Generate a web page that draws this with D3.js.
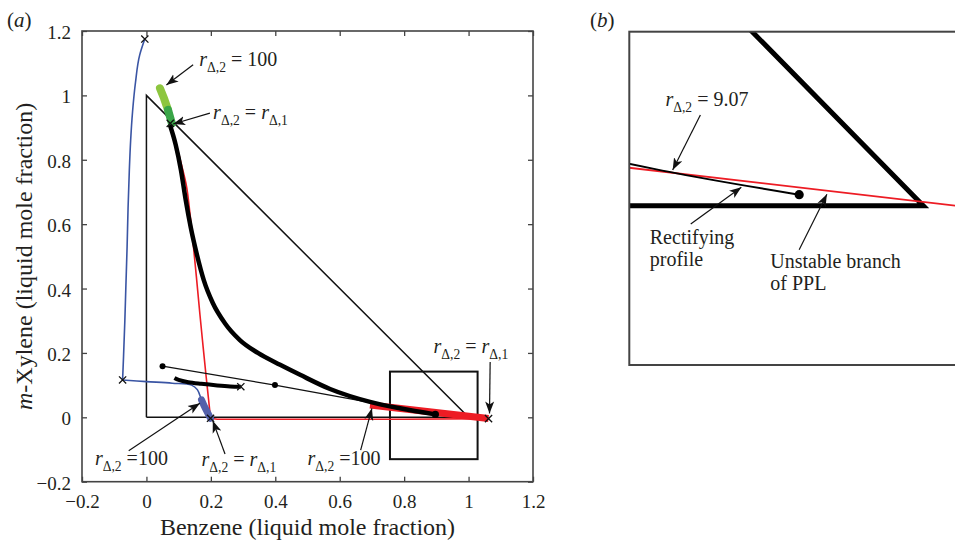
<!DOCTYPE html>
<html lang="en">
<head>
<meta charset="utf-8">
<script src="https://d3js.org/d3.v7.min.js"></script>
<style>
  body { margin: 0; background: #fff; }
  svg text { font-family: "Liberation Serif", "DejaVu Serif", serif; fill: #231f20; white-space: pre; }
</style>
</head>
<body>
<script>

// tick values shared by both axes
var xTicks = [-0.2, 0, 0.2, 0.4, 0.6, 0.8, 1, 1.2];
var yTicks = [-0.2, 0, 0.2, 0.4, 0.6, 0.8, 1, 1.2];

// composition triangle and the window shown in (b)
var triangle = [[0, 0], [0, 1], [1, 0], [0, 0]];
var zoomBox = [[0.756, -0.13], [1.028, 0.142]];

// profiles as [benzene, m-xylene]
var blueRise = [[-0.005, 1.175], [-0.021, 1.125], [-0.034, 1.04], [-0.043, 0.95], [-0.049, 0.86],
    [-0.053, 0.77], [-0.057, 0.65], [-0.060, 0.53], [-0.064, 0.40], [-0.067, 0.30], [-0.071, 0.19],
    [-0.074, 0.116]];
var blueRun = [[-0.074, 0.116], [0.0, 0.111], [0.08, 0.106], [0.14, 0.100], [0.158, 0.086], [0.171, 0.054],
    [0.185, 0.026], [0.199, -0.003]];
var blueThick = [[0.171, 0.054], [0.179, 0.036], [0.189, 0.016], [0.199, -0.003]];
var redCurve = [[0.074, 0.913], [0.092, 0.85], [0.110, 0.78], [0.124, 0.72], [0.135, 0.634],
    [0.146, 0.53], [0.156, 0.427], [0.166, 0.32], [0.176, 0.219], [0.185, 0.13], [0.192, 0.064],
    [0.199, -0.003]];
var redBase = [[0.199, -0.003], [0.22, -0.006], [0.5, -0.006], [0.8, -0.006], [1.062, -0.004]];
var redThick = [[0.694, 0.038], [1.062, -0.004]];
var greenLight = [[0.042, 1.022], [0.055, 0.99], [0.067, 0.955]];
var greenDark = [[0.067, 0.955], [0.079, 0.913]];
var rectProfile = [[0.073, 0.908], [0.091, 0.846], [0.107, 0.769], [0.122, 0.675], [0.138, 0.588],
    [0.157, 0.504], [0.178, 0.426], [0.206, 0.355], [0.243, 0.293], [0.290, 0.240], [0.346, 0.200],
    [0.415, 0.163], [0.477, 0.132], [0.570, 0.088], [0.694, 0.048], [0.787, 0.028], [0.897, 0.009]];
var shortProfile = [[0.087, 0.122], [0.1, 0.116], [0.13, 0.109], [0.17, 0.104], [0.22, 0.099],
    [0.26, 0.096], [0.293, 0.095]];
var tieLine = [[0.05, 0.159], [0.399, 0.1], [0.897, 0.009]];
var tieDots = [[0.05, 0.159], [0.399, 0.1]];
var endDot = [0.897, 0.009];
var crosses = [[-0.005, 1.175], [-0.074, 0.116], [0.074, 0.913], [0.293, 0.095], [0.199, -0.003], [1.062, -0.004]];

// annotations: text parts, text anchor, arrow tail and tip (data units)
var notesA = [
    { parts: [["r", "i"], ["Δ,2", "sub"], [" = 100", ""]], at: [0.164, 1.09], tail: [0.145, 1.095], tip: [0.062, 1.032] },
    { parts: [["r", "i"], ["Δ,2", "sub"], [" = ", ""], ["r", "i"], ["Δ,1", "sub"]], at: [0.207, 0.926], tail: [0.197, 0.945], tip: [0.083, 0.911] },
    { parts: [["r", "i"], ["Δ,2", "sub"], [" =100", ""]], at: [-0.160, -0.148], tail: [-0.055, -0.104], tip: [0.166, 0.044] },
    { parts: [["r", "i"], ["Δ,2", "sub"], [" = ", ""], ["r", "i"], ["Δ,1", "sub"]], at: [0.171, -0.151], tail: [0.244, -0.114], tip: [0.206, -0.011] },
    { parts: [["r", "i"], ["Δ,2", "sub"], [" =100", ""]], at: [0.5, -0.148], tail: [0.665, -0.102], tip: [0.7, 0.028] },
    { parts: [["r", "i"], ["Δ,2", "sub"], [" = ", ""], ["r", "i"], ["Δ,1", "sub"]], at: [0.891, 0.199], tail: [1.067, 0.172], tip: [1.065, 0.012] }
];
var notesB = [
    { parts: [["r", "i"], ["Δ,2", "sub"], [" = 9.07", ""]], at: [0.786, 0.081], tail: [0.815, 0.074], tip: [0.792, 0.0291] },
    { lines: ["Rectifying", "profile"], at: [0.773, -0.031], tail: [0.807, -0.015], tip: [0.849, 0.015] },
    { lines: ["Unstable branch", "of PPL"], at: [0.873, -0.051], tail: [0.897, -0.036], tip: [0.92, 0.0093] }
];

var W = 955, H = 547;
var svg = d3.select("body").append("svg").attr("width", W).attr("height", H);

var defs = svg.append("defs");
defs.append("marker").attr("id", "head")
    .attr("viewBox", "0 -5 12 10").attr("refX", 12).attr("refY", 0)
    .attr("markerWidth", 12).attr("markerHeight", 10)
    .attr("markerUnits", "userSpaceOnUse").attr("orient", "auto")
    .append("path").attr("d", "M0,-4.5L12,0L0,4.5L3,0Z").attr("fill", "#111");

// ---------- panel (a) ----------
var x = d3.scaleLinear().domain([-0.2, 1.2]).range([82, 533]);
var y = d3.scaleLinear().domain([-0.2, 1.2]).range([481.7, 31]);

var fmt = function(d) { return d < 0 ? "\u2212" + Math.abs(d) : String(d); };

var gA = svg.append("g");

var xAxis = gA.append("g").attr("transform", "translate(0," + y(-0.2) + ")")
    .call(d3.axisBottom(x).tickValues(xTicks).tickSize(-5).tickSizeOuter(0).tickPadding(13).tickFormat(fmt));
var yAxis = gA.append("g").attr("transform", "translate(" + x(-0.2) + ",0)")
    .call(d3.axisLeft(y).tickValues(yTicks).tickSize(-5).tickSizeOuter(0).tickPadding(11).tickFormat(fmt));
gA.append("g").attr("transform", "translate(0," + y(1.2) + ")")
    .call(d3.axisTop(x).tickValues(xTicks).tickSize(-5).tickSizeOuter(0).tickFormat(""));
gA.append("g").attr("transform", "translate(" + x(1.2) + ",0)")
    .call(d3.axisRight(y).tickValues(yTicks).tickSize(-5).tickSizeOuter(0).tickFormat(""));

gA.selectAll(".domain").remove();
gA.selectAll(".tick line").attr("stroke", "#444").attr("stroke-width", 1.3);
gA.selectAll(".tick text").style("font-size", "19px").style("font-family", "Liberation Serif, serif").attr("fill", "#231f20");
yAxis.selectAll(".tick text").attr("dy", "0.4em");

gA.append("rect")
    .attr("x", x(-0.2)).attr("y", y(1.2))
    .attr("width", x(1.2) - x(-0.2)).attr("height", y(-0.2) - y(1.2))
    .attr("fill", "none").attr("stroke", "#444").attr("stroke-width", 1.6);

var smooth = d3.line().x(function(d) { return x(d[0]); }).y(function(d) { return y(d[1]); })
    .curve(d3.curveCatmullRom.alpha(0.5));
var smoothX = d3.line().x(function(d) { return x(d[0]); }).y(function(d) { return y(d[1]); })
    .curve(d3.curveMonotoneX);
var smoothY = d3.line().x(function(d) { return x(d[0]); }).y(function(d) { return y(d[1]); })
    .curve(d3.curveMonotoneY);
var straight = d3.line().x(function(d) { return x(d[0]); }).y(function(d) { return y(d[1]); });

gA.append("path").attr("d", straight(triangle)).attr("fill", "none").attr("stroke", "#111").attr("stroke-width", 1.5);

gA.append("rect")
    .attr("x", x(zoomBox[0][0])).attr("y", y(zoomBox[1][1]))
    .attr("width", x(zoomBox[1][0]) - x(zoomBox[0][0]))
    .attr("height", y(zoomBox[0][1]) - y(zoomBox[1][1]))
    .attr("fill", "none").attr("stroke", "#111").attr("stroke-width", 2);

gA.append("path").attr("d", smoothY(blueRise)).attr("fill", "none").attr("stroke", "#3a55a4").attr("stroke-width", 1.6);
gA.append("path").attr("d", smooth(blueRun)).attr("fill", "none").attr("stroke", "#3a55a4").attr("stroke-width", 1.6);
gA.append("path").attr("d", smoothY(redCurve)).attr("fill", "none").attr("stroke", "#ed1c24").attr("stroke-width", 1.6);
gA.append("path").attr("d", straight(redBase)).attr("fill", "none").attr("stroke", "#ed1c24").attr("stroke-width", 1.6);
gA.append("path").attr("d", straight(redThick)).attr("fill", "none").attr("stroke", "#ed1c24").attr("stroke-width", 7);
gA.append("path").attr("d", smooth(blueThick)).attr("fill", "none").attr("stroke", "#5461aa")
    .attr("stroke-width", 7).attr("stroke-linecap", "round");
gA.append("path").attr("d", straight(greenLight)).attr("fill", "none").attr("stroke", "#8dc63f")
    .attr("stroke-width", 8).attr("stroke-linecap", "round");
gA.append("path").attr("d", straight(greenDark)).attr("fill", "none").attr("stroke", "#3aa648")
    .attr("stroke-width", 8).attr("stroke-linecap", "round");

gA.append("path").attr("d", straight(tieLine)).attr("fill", "none").attr("stroke", "#111").attr("stroke-width", 1.2);
gA.append("path").attr("d", smoothX(rectProfile)).attr("fill", "none").attr("stroke", "#000").attr("stroke-width", 4.5);
gA.append("path").attr("d", smooth(shortProfile)).attr("fill", "none").attr("stroke", "#000").attr("stroke-width", 4);

gA.selectAll(".tiedot").data(tieDots).enter().append("circle")
    .attr("cx", function(d) { return x(d[0]); }).attr("cy", function(d) { return y(d[1]); })
    .attr("r", 3).attr("fill", "#000");
gA.append("circle").attr("cx", x(endDot[0])).attr("cy", y(endDot[1])).attr("r", 3.6).attr("fill", "#000");

gA.selectAll(".cross").data(crosses).enter().append("path")
    .attr("d", function(d) {
        var cx = x(d[0]), cy = y(d[1]), s = 3.6;
        return "M" + (cx - s) + "," + (cy - s) + "L" + (cx + s) + "," + (cy + s) +
            "M" + (cx - s) + "," + (cy + s) + "L" + (cx + s) + "," + (cy - s);
    })
    .attr("stroke", "#111").attr("stroke-width", 1.3).attr("fill", "none");

function label(g, px, py, parts, size) {
    var t = g.append("text").attr("x", px).attr("y", py).style("font-size", size + "px");
    var shift = 0;
    parts.forEach(function(p) {
        var ts = t.append("tspan").text(p[0]);
        if (p[1] == "i") ts.style("font-style", "italic");
        if (p[1] == "sub") {
            ts.style("font-size", (size * 0.68) + "px").attr("dy", 0.3 * size);
            shift = 0.3 * size;
        } else if (shift) {
            ts.attr("dy", -shift);
            shift = 0;
        }
    });
}

function arrow(g, sx, sy, n) {
    g.append("line")
        .attr("x1", sx(n.tail[0])).attr("y1", sy(n.tail[1]))
        .attr("x2", sx(n.tip[0])).attr("y2", sy(n.tip[1]))
        .attr("stroke", "#111").attr("stroke-width", 1.2).attr("marker-end", "url(#head)");
}

notesA.forEach(function(n) {
    label(gA, x(n.at[0]), y(n.at[1]), n.parts, 20);
    arrow(gA, x, y, n);
});

gA.append("text").attr("x", (x(-0.2) + x(1.2)) / 2).attr("y", 535)
    .attr("text-anchor", "middle").style("font-size", "24px")
    .text("Benzene (liquid mole fraction)");
var yt = gA.append("text").attr("transform", "translate(32," + y(0.5) + ") rotate(-90)")
    .attr("text-anchor", "middle").style("font-size", "24px");
yt.append("tspan").style("font-style", "italic").text("m");
yt.append("tspan").text("-Xylene (liquid mole fraction)");

var la = gA.append("text").attr("x", 7).attr("y", 27).style("font-size", "21px");
la.append("tspan").text("(");
la.append("tspan").style("font-style", "italic").text("a");
la.append("tspan").text(")");

// ---------- panel (b): close-up of the window near the benzene vertex ----------
var xb = d3.scaleLinear().domain([zoomBox[0][0], zoomBox[1][0]]).range([629.3, 957]);
var yb = d3.scaleLinear().domain([zoomBox[0][1], zoomBox[1][1]]).range([365, 31.7]);

var gB = svg.append("g");
defs.append("clipPath").attr("id", "clipB").append("rect")
    .attr("x", xb.range()[0]).attr("y", yb.range()[1])
    .attr("width", xb.range()[1] - xb.range()[0]).attr("height", yb.range()[0] - yb.range()[1]);

var lineB = d3.line().x(function(d) { return xb(d[0]); }).y(function(d) { return yb(d[1]); });
var smoothB = d3.line().x(function(d) { return xb(d[0]); }).y(function(d) { return yb(d[1]); })
    .curve(d3.curveMonotoneX);

var inner = gB.append("g").attr("clip-path", "url(#clipB)");
inner.append("path").attr("d", lineB(triangle)).attr("fill", "none").attr("stroke", "#000").attr("stroke-width", 5);
inner.append("path").attr("d", lineB(redThick)).attr("fill", "none").attr("stroke", "#ed1c24").attr("stroke-width", 1.8);
inner.append("path").attr("d", smoothB(rectProfile)).attr("fill", "none").attr("stroke", "#000").attr("stroke-width", 2);
inner.append("circle").attr("cx", xb(endDot[0])).attr("cy", yb(endDot[1])).attr("r", 4.6).attr("fill", "#000");

gB.append("rect")
    .attr("x", xb.range()[0]).attr("y", yb.range()[1])
    .attr("width", xb.range()[1] - xb.range()[0]).attr("height", yb.range()[0] - yb.range()[1])
    .attr("fill", "none").attr("stroke", "#444").attr("stroke-width", 2);

notesB.forEach(function(n) {
    if (n.parts) {
        label(gB, xb(n.at[0]), yb(n.at[1]), n.parts, 20);
    } else {
        n.lines.forEach(function(s, i) {
            gB.append("text").attr("x", xb(n.at[0])).attr("y", yb(n.at[1]) + i * 22)
                .style("font-size", "20px").text(s);
        });
    }
    arrow(gB, xb, yb, n);
});

var lb = gB.append("text").attr("x", 590).attr("y", 27).style("font-size", "21px");
lb.append("tspan").text("(");
lb.append("tspan").style("font-style", "italic").text("b");
lb.append("tspan").text(")");

</script>
</body>
</html>
